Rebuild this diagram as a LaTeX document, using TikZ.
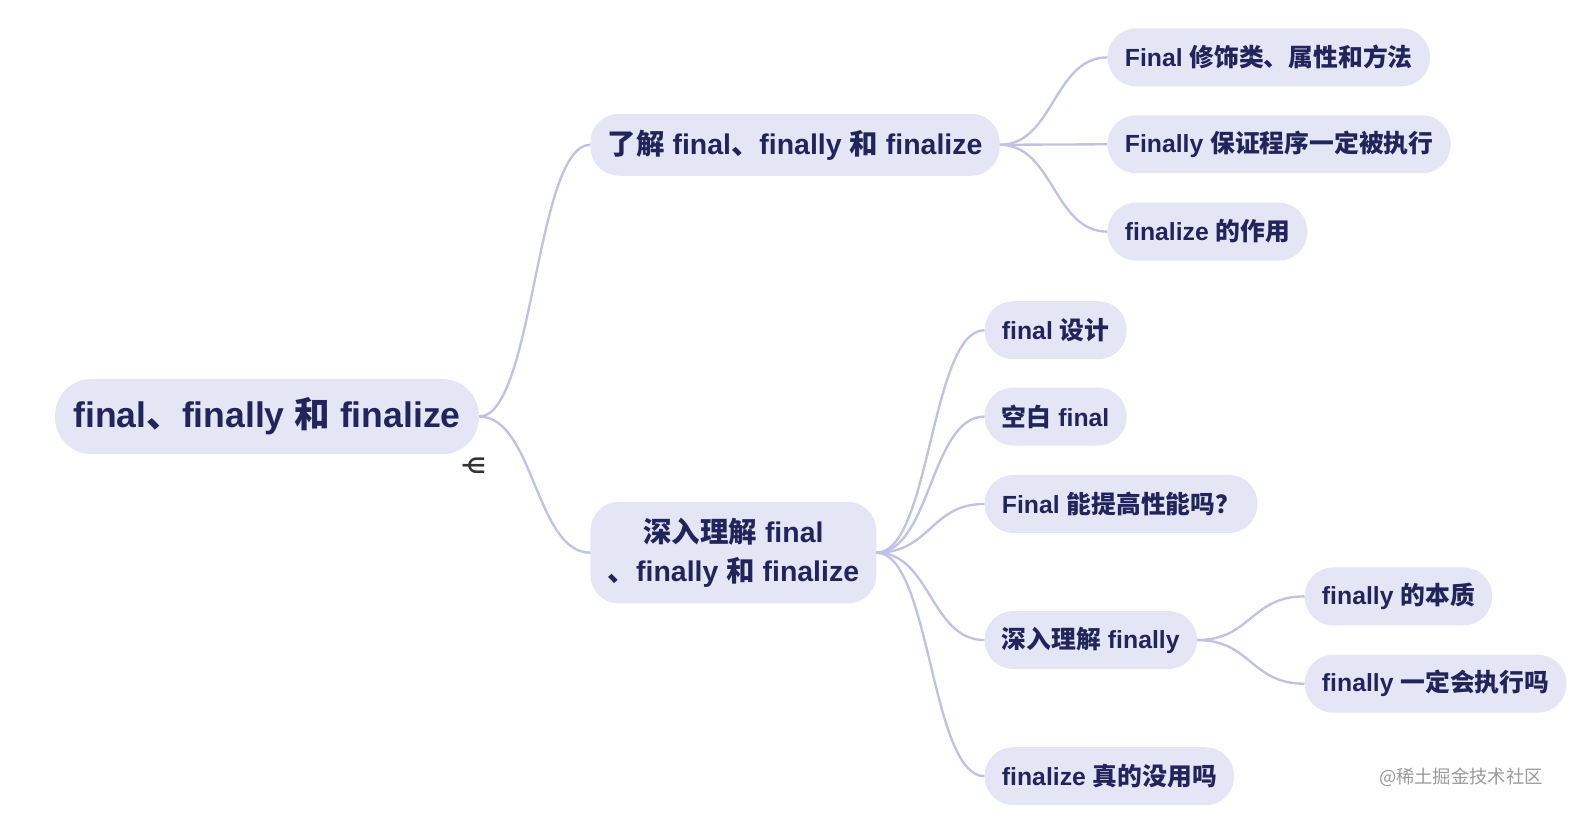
\documentclass[tikz,border=0pt]{standalone}
\usepackage{fontspec}
\setmainfont{Liberation Sans}
\newfontfamily\cjk{Noto Sans CJK SC}
\newfontfamily\symfont{DejaVu Sans}
\definecolor{topicfill}{HTML}{E4E6F6}
\definecolor{topictext}{HTML}{22255A}
\definecolor{branchline}{HTML}{BFC2E3}
\definecolor{markgrey}{HTML}{9A9A9A}
\newcommand{\zh}[1]{{\cjk #1}}

\begin{document}
\begin{tikzpicture}[x=1pt,y=-1pt]
	\tikzset{topic/.style={fill=topicfill,text=topictext,rounded corners=28pt,inner xsep=17pt,inner ysep=0pt,anchor=west,align=center}}
	\tikzset{roottopic/.style={topic,minimum height=74pt,rounded corners=36pt,inner xsep=18pt,font=\bfseries\fontsize{35}{42}\selectfont}}
	\tikzset{maintopic/.style={topic,minimum height=61pt,font=\bfseries\fontsize{28}{39}\selectfont}}
	\tikzset{subtopic/.style={topic,minimum height=57pt,font=\bfseries\fontsize{24.4}{30}\selectfont}}
	\tikzset{branch/.style={draw=branchline,line width=2.3pt}}
	\useasboundingbox (0,0) rectangle (1567,807);

	\node[roottopic] (core) at (54,410) {final\zh{、}finally \zh{和} finalize};
	\node[maintopic] (know) at (581,142.5) {\zh{了解} final\zh{、}finally \zh{和} finalize};
	\node[maintopic,minimum height=100pt] (deep) at (581,544) {\zh{深入理解} final\\\zh{、}finally \zh{和} finalize};

	\node[subtopic] (modify) at (1090,56.5) {Final \zh{修饰类、属性和方法}};
	\node[subtopic] (guarantee) at (1090,142) {Finally \zh{保证程序一定被执行}};
	\node[subtopic] (role) at (1090,228) {finalize \zh{的作用}};

	\node[subtopic] (design) at (969,325) {final \zh{设计}};
	\node[subtopic] (blank) at (969,410) {\zh{空白} final};
	\node[subtopic] (perf) at (969,496) {Final \zh{能提高性能吗？}};
	\node[subtopic] (deepfinally) at (969,630) {\zh{深入理解} finally};
	\node[subtopic] (useless) at (969,764) {finalize \zh{真的没用吗}};

	\node[subtopic] (essence) at (1284,587) {finally \zh{的本质}};
	\node[subtopic] (always) at (1284,673) {finally \zh{一定会执行吗}};

	\foreach \child in {know,deep}
		\draw[branch] (core.east) .. controls +(54,0) and +(-54,0) .. (\child.west);
	\foreach \child in {modify,guarantee,role}
		\draw[branch] (know.east) .. controls +(53,0) and +(-53,0) .. (\child.west);
	\foreach \child in {design,blank,perf,deepfinally,useless}
		\draw[branch] (deep.east) .. controls +(53,0) and +(-53,0) .. (\child.west);
	\foreach \child in {essence,always}
		\draw[branch] (deepfinally.east) .. controls +(53,0) and +(-53,0) .. (\child.west);

	\node[font=\symfont\bfseries\fontsize{21}{21}\selectfont,text=black!80] (fold) at (466,458) {⋲};
	\node[anchor=east,font=\cjk\fontsize{18}{20}\selectfont,text=markgrey] (mark) at (1522,765) {@稀土掘金技术社区};
\end{tikzpicture}
\end{document}
